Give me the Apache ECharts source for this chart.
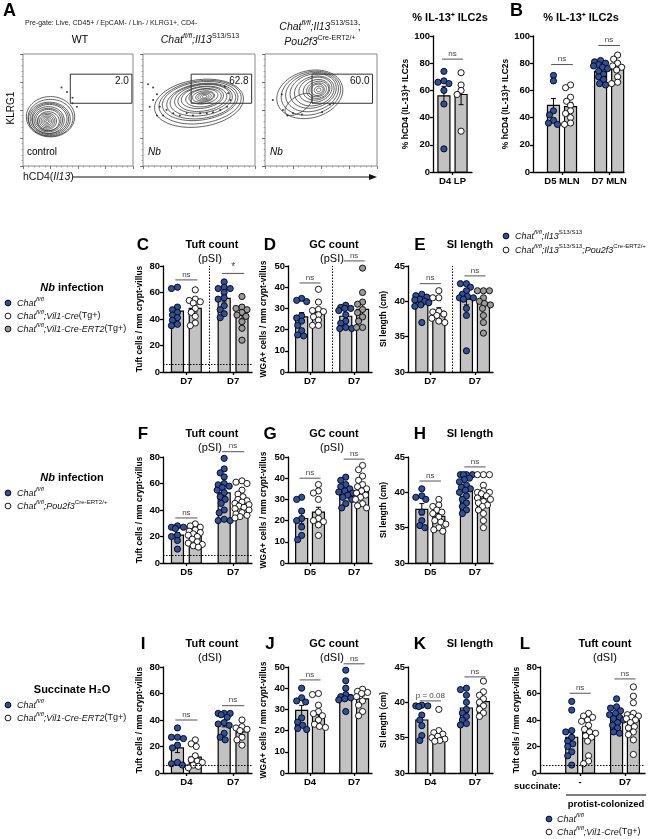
<!DOCTYPE html>
<html><head><meta charset="utf-8">
<script src="https://cdn.jsdelivr.net/npm/echarts@6/dist/echarts.min.js"></script>
<style>html,body{margin:0;padding:0;background:#fff}#c{width:650px;height:839px}</style>
</head><body><div id="c"></div><script>
const FONT = '"Liberation Sans", Arial, Helvetica, sans-serif';

// ---------------- DATA ----------------
// Panel A flow plots (plot units 0-100)
const flowRingsWT = [[25,44,22,18,0],[25,43,20.5,16.5,0],[24,42,19,15,0],[24,42,17.5,14,0],[24,42,16,13,0],[23,41,14.5,12,0],[23,41,13,10.5,0],[23,41,11.5,9.5,0],[23,40,10,8.5,0],[22,40,8.5,7.2,0],[22,40,7,6,0],[22,40,5.5,4.7,0],[22,40,4,3.5,0],[22,40,2.5,2.2,0],[22,40,1.2,1.1,0]];
const flowRingsIl13 = [[50,56,40,21,8],[51,57,37,19,8],[51,58,34,17,8],[52,58,31,15.5,8],[52,59,28,14,8],[53,60,25,12.5,8],[53,60,22,11,8],[53,61,19,9.5,8],[54,61,16,8,8],[54,62,13,6.5,8],[54,62,10,5,8],[55,62,8,4,8],[55,62,6,3,8],[55,62,4,2,8],[55,62,2,1.2,8]];
const flowRingsPou = [[40,64,30,21,15],[41,65,27,19,15],[42,66,24,17,15],[43,67,21,15,15],[44,67,18,13,15],[45,68,15,11,15],[46,68,12,9,15],[47,68,10,7.5,15],[47,68,8,6,15],[47,68,6,5,15],[48,68,4,3.2,15],[48,68,2,1.6,15],[30,55,14,7,35]];
const flowDotsWT = [[35,70],[40,66],[45,61],[45,56],[49,53]];
const flowDotsIl13 = [[4.5,73],[9,70],[12.5,64],[9,59],[15,53],[21,50],[27,47],[33,45],[39,47],[44.6,45],[51,47],[57,47],[62.5,48],[69,50],[75,53],[78,59],[76,65],[73,71],[6,53],[12.5,45],[18,45]];
const flowDotsPou = [[7,59],[15,64],[16,50],[20,45],[25,47],[33,46],[51,48],[58,55],[61,56]];
const flowGates = [[43,56,99,82],[43,56,97,82],[42,56,96,82]];
const flowPercents = ['2.0','62.8','60.0'];

// Panel A bar: % IL-13+ ILC2s, D4 LP
const aCats = ['D4 LP'];
const aMeans = [56, 57];
const aSem = [7, 7.5];
const aIl13 = [74, 66, 67, 65, 60, 50, 17];
const aIl13Pou = [73, 64, 60, 57, 30];
const aSig = [['ns', 83]];

// Panel B
const bCats = ['D5 MLN', 'D7 MLN'];
const bMeans = [49, 48, 74, 77];
const bSem = [5, 3.2, 1.5, 2.3];
const bD5Il13 = [71, 67, 45, 42, 38, 36, 35];
const bD5Pou = [64, 62, 55, 52, 49, 45, 43, 40, 36, 35];
const bD7Il13 = [82, 81, 80, 79, 78, 77, 76, 74, 72, 70, 68, 65, 64];
const bD7Pou = [86, 83, 80, 78, 77, 75, 70, 66, 65];
const bSig = [['ns', 79], ['ns', 93]];

// Panel C: Tuft count (pSI)
const cCats = ['D7', 'D7'];
const cMeans = [46, 48, 55.5, 43];
const cSem = [3.2, 2.7, 2.6, 2.9];
const cChatA = [63, 64, 49, 47, 45, 43, 41, 39, 36, 35];
const cVilCre = [62, 55, 54, 53, 52, 48, 45, 42, 37, 35];
const cChatB = [68, 64, 63, 63, 60, 56, 55, 50, 47, 44, 41];
const cVilErt2 = [57, 49, 48, 47, 45, 43, 42, 38, 33, 24];
const cSig = [['ns', 69.5], ['*', 74.4]];

// Panel D: GC count (pSI)
const dCats = ['D7', 'D7'];
const dMeans = [26, 28, 26.3, 29.5];
const dSem = [2.0, 1.6, 1.3, 2.8];
const dChatA = [34.7, 33.8, 33.2, 26.5, 25.5, 24, 22, 19.5, 17.5, 17];
const dVilCre = [39, 33, 29.5, 29, 28.5, 27, 26, 24.5, 22, 22];
const dChatB = [31.5, 30.5, 30, 30, 29, 27, 24, 23, 21, 20.5, 20.5];
const dVilErt2 = [49, 37.5, 33, 32, 29.5, 28, 26, 24, 21, 21];
const dSig = [['ns', 42], ['ns', 52.4]];

// Panel E: SI length
const eCats = ['D7', 'D7'];
const eMeans = [39.8, 38.6, 40.3, 39.7];
const eSem = [0.4, 0.5, 0.8, 0.5];
const eChatA = [41, 40.8, 40.6, 40.3, 40.2, 40, 39.8, 39.5, 39.3, 37];
const eVilCre = [41.5, 40.5, 40.5, 38.6, 38.5, 38.2, 38, 37.6, 37.2, 37];
const eChatB = [42.5, 42.5, 42, 41.5, 41, 40.7, 40.5, 40.5, 40.3, 39, 38, 33];
const eVilErt2 = [41.5, 41.5, 41.5, 40.5, 40, 39.7, 39.5, 39, 38, 37, 35.5];
const eSig = [['ns', 42.5], ['ns', 43.6]];

// Panel F: Tuft count (pSI)
const fCats = ['D5', 'D7'];
const fMeans = [21, 20, 53, 45.5];
const fSem = [2, 1.4, 2.9, 1.8];
const fD5Chat = [28, 27, 27, 26, 21, 20, 17, 10.5];
const fD5Pou = [29.5, 28, 27, 25, 24, 23, 22, 21, 20, 18, 16, 15, 14, 13, 12];
const fD7Chat = [79, 71, 68, 65, 60, 59, 58, 57, 55, 53, 50, 48, 45, 40, 38, 33, 32, 32];
const fD7Pou = [62, 61, 60, 55, 52, 50, 48, 47, 46, 45, 44, 43, 42, 41, 40, 38, 37, 36, 35, 34];
const fSig = [['ns', 34], ['ns', 84]];

// Panel G: GC count (pSI)
const gCats = ['D5', 'D7'];
const gMeans = [21, 24, 34, 35];
const gSem = [2.5, 2.3, 1.1, 1.4];
const gD5Chat = [31, 30, 24.5, 21, 20, 17, 13, 11];
const gD5Pou = [37, 34, 33, 30, 24, 21, 20, 19.5, 18, 13];
const gD7Chat = [40.5, 39, 37, 36, 35, 34, 33.5, 33, 32, 31, 30, 28, 26];
const gD7Pou = [46, 44, 41, 39, 37, 36, 35, 34, 33, 32, 31, 30, 28, 27, 26];
const gSig = [['ns', 40], ['ns', 49]];

// Panel H: SI length
const hCats = ['D5', 'D7'];
const hMeans = [37.6, 36.6, 40.6, 39.2];
const hSem = [0.8, 0.4, 0.4, 0.4];
const hD5Chat = [40.5, 39.5, 39.3, 39, 37.2, 36, 35.3, 35];
const hD5Pou = [39, 38.2, 38, 37.5, 37.2, 37, 36.5, 36, 35.8, 35.5, 35, 34.7, 34.5];
const hD7Chat = [42.5, 42.5, 42.5, 42.5, 42, 41.8, 41.5, 41, 40.7, 40.5, 40.3, 40, 39.5, 39, 38.5, 38, 37.5, 37];
const hD7Pou = [42.5, 42.5, 42.5, 41, 40.2, 40, 40, 39.8, 39.5, 39.2, 39, 38.7, 38.5, 38.2, 38, 37.5, 37, 36, 35];
const hSig = [['ns', 41.6], ['ns', 43.6]];

// Panel I: Tuft count (dSI)
const iCats = ['D4', 'D7'];
const iMeans = [19, 12, 37, 31];
const iSem = [3.6, 2.3, 2.2, 2.2];
const iD4Chat = [34, 27, 27, 26, 21, 19, 8, 7, 6];
const iD4Ert2 = [25, 22, 20, 13, 10, 9, 8, 6, 5, 4];
const iD7Chat = [45, 45, 45, 44, 42, 38, 37, 36, 30, 27, 25];
const iD7Ert2 = [40, 35, 34, 33, 32, 27, 25, 21];
const iSig = [['ns', 40], ['ns', 50.8]];

// Panel J: GC count (dSI)
const jCats = ['D4', 'D7'];
const jMeans = [29.5, 27.5, 37, 35];
const jSem = [2.4, 2.0, 1.9, 1.4];
const jD4Chat = [40, 35.5, 34, 33.5, 26, 24, 22.5, 21, 20.5];
const jD4Ert2 = [37.5, 37, 32, 29, 28, 27, 25, 23, 22, 21.5];
const jD7Chat = [48.5, 43.5, 40, 37, 36, 35.5, 35, 34.5, 29];
const jD7Ert2 = [39.5, 38.5, 38, 37.5, 36, 34, 32, 29, 27];
const jSig = [['ns', 43.9], ['ns', 51.5]];

// Panel K: SI length
const kCats = ['D4', 'D7'];
const kMeans = [37.5, 35.4, 39.2, 40.1];
const kSem = [0.7, 0.4, 0.6, 0.5];
const kD4Chat = [39.6, 39.5, 39.5, 39.4, 38.2, 37.5, 36.7, 35.3, 34.6];
const kD4Ert2 = [39, 36, 35.7, 35.5, 35.2, 35, 34.8, 34.6, 34.5];
const kD7Chat = [42, 41.8, 41, 40, 39, 38.5, 38, 37.5, 37, 36.8];
const kD7Ert2 = [43, 41.5, 41, 40.5, 40, 39.5, 39, 38.5, 38];
const kSig = [['p = 0.08', 40.2], ['ns', 43.6]];

// Panel L: Tuft count (dSI), protist-colonized
const lCats = ['-', 'D7'];
const lMeans = [27, 30.5, 41, 40];
const lSem = [4.5, 3.4, 2.0, 3.1];
const lNoneChat = [54, 47.5, 32, 31, 27, 24, 22, 20, 16, 13, 6];
const lNoneVil = [45, 43, 42, 40, 39, 36, 33, 31, 30, 28, 27, 24, 13, 9, 7];
const lD7Chat = [56, 50, 49, 47, 45, 44, 42, 41, 40, 38, 36, 34, 31, 30];
const lD7Vil = [65, 58, 53, 45, 44, 43, 42, 41, 40, 38, 35, 34, 31, 29, 25, 14];
const lSig = [['ns', 60.2], ['ns', 71]];

const detectionLimit = 6;

// ---------------- BUILD ----------------
const BLUE = '#2f509e', GREYDOT = '#9a9a9a', BARFILL = '#c2c2c2';
const DOTFILL = {b: BLUE, w: '#ffffff', g: GREYDOT};
const grids = [], xAxes = [], yAxes = [], series = [], graphics = [];

// compact beeswarm layout (pixel space), offsets limited to about the bar width
function swarm(vals, center, pxX, pxY) {
  const order = vals.map((v, i) => [v, i]).sort((a, b) => b[0] - a[0]);
  const placed = [], out = [];
  const minD = 5.2, maxOff = 7;
  const cands = [0];
  for (let s = 1; s <= maxOff; s++) { cands.push(-s, s); }
  order.forEach(([v]) => {
    const yp = v * pxY;
    let chosen = null, best = -1, bestO = 0;
    for (const o of cands) {
      let md = 1e9;
      for (const p of placed) {
        const dx = o - p[0], dy = yp - p[1];
        md = Math.min(md, Math.sqrt(dx * dx + dy * dy));
      }
      if (md >= minD) { chosen = o; break; }
      if (md > best) { best = md; bestO = o; }
    }
    if (chosen === null) chosen = bestO;
    placed.push([chosen, yp]);
    out.push([center + chosen / pxX, v]);
  });
  return out;
}

function addBarPanel(c) {
  const gi = grids.length;
  grids.push({left: c.left, top: c.top, width: c.width, height: c.height, containLabel: false, outerBoundsMode: 'none'});
  const xi = xAxes.length, yi = yAxes.length;
  const lab = v => { const k = c.centers.findIndex(q => Math.abs(q - v) < 1e-6); return k >= 0 ? c.cats[k] : ''; };
  xAxes.push({type: 'value', gridIndex: gi, min: 0, max: c.xMax, splitLine: {show: false},
    axisLine: {show: true, onZero: false, lineStyle: {color: '#000', width: 1.3}},
    axisTick: {show: true, customValues: c.centers, length: 3, lineStyle: {color: '#000', width: 1.3}},
    axisLabel: {show: true, customValues: c.centers, formatter: lab, fontFamily: FONT, fontWeight: 'bold', fontSize: 9.5, color: '#000', margin: 4}
  });
  yAxes.push({type: 'value', gridIndex: gi, min: c.ymin, max: c.ymax, interval: c.interval,
    name: c.yname, nameLocation: 'middle', nameGap: c.nameGap || 19,
    nameTextStyle: {fontFamily: FONT, fontWeight: 'bold', fontSize: 8.5, color: '#000'},
    splitLine: {show: false},
    axisLine: {show: true, lineStyle: {color: '#000', width: 1.3}},
    axisTick: {show: true, length: 3, lineStyle: {color: '#000', width: 1.3}},
    axisLabel: {fontFamily: FONT, fontWeight: 'bold', fontSize: 9.5, color: '#000', margin: 3}
  });
  const pxX = c.width / c.xMax, pxY = c.height / (c.ymax - c.ymin);
  series.push({type: 'custom', xAxisIndex: xi, yAxisIndex: yi, z: 1, silent: true,
    data: c.pos.map((p, k) => [p, c.means[k]]),
    renderItem: (params, api) => {
      const t = api.coord([api.value(0), api.value(1)]);
      const b = api.coord([api.value(0), c.ymin]);
      return {type: 'rect', shape: {x: t[0] - 6, y: t[1], width: 12, height: b[1] - t[1]},
        style: {fill: BARFILL, stroke: '#000', lineWidth: 1.2}};
    }});
  series.push({type: 'custom', xAxisIndex: xi, yAxisIndex: yi, z: 2, silent: true,
    data: c.pos.map((p, k) => [p, c.means[k], c.sems[k]]),
    renderItem: (params, api) => {
      const x = api.value(0), m = api.value(1), s = api.value(2);
      const a = api.coord([x, m + s]), b = api.coord([x, m - s]);
      const st = {stroke: '#000', lineWidth: 1};
      return {type: 'group', children: [
        {type: 'line', shape: {x1: a[0], y1: a[1], x2: b[0], y2: b[1]}, style: st},
        {type: 'line', shape: {x1: a[0] - 2.5, y1: a[1], x2: a[0] + 2.5, y2: a[1]}, style: st},
        {type: 'line', shape: {x1: b[0] - 2.5, y1: b[1], x2: b[0] + 2.5, y2: b[1]}, style: st}
      ]};
    }});
  c.groups.forEach((vals, k) => {
    const s = {type: 'scatter', xAxisIndex: xi, yAxisIndex: yi, z: 4, silent: true,
      symbol: 'circle', symbolSize: 6.2,
      itemStyle: {color: DOTFILL[c.styles[k]], borderColor: '#000', borderWidth: 0.9, opacity: 1},
      data: swarm(vals, c.pos[k], pxX, pxY)};
    if (k === 0 && (c.cutoff || c.divider)) {
      const ml = [];
      if (c.cutoff) ml.push({yAxis: detectionLimit});
      if (c.divider) ml.push({xAxis: c.divider});
      s.markLine = {silent: true, symbol: 'none', label: {show: false}, animation: false,
        lineStyle: {type: [1.5, 1.5], color: '#000', width: 1}, data: ml};
    }
    series.push(s);
  });
  series.push({type: 'custom', xAxisIndex: xi, yAxisIndex: yi, z: 5, silent: true, clip: false,
    data: c.sig.map((s, k) => [c.pos[2 * k] - 0.1, c.pos[2 * k + 1] + 0.1, s[1], k]),
    renderItem: (params, api) => {
      const k = api.value(3);
      const a = api.coord([api.value(0), api.value(2)]), b = api.coord([api.value(1), api.value(2)]);
      return {type: 'group', children: [
        {type: 'line', shape: {x1: a[0], y1: a[1], x2: b[0], y2: b[1]}, style: {stroke: '#555', lineWidth: 1}},
        {type: 'text', x: (a[0] + b[0]) / 2, y: a[1] - 1.5,
          style: {text: c.sig[k][0], fill: '#444', fontFamily: FONT, fontSize: c.sig[k][0] === '*' ? 10 : 8,
            align: 'center', verticalAlign: 'bottom'}}
      ]};
    }});
}

function addFlow(c) {
  const gi = grids.length;
  grids.push({left: c.left, top: c.top, width: c.width, height: c.height, containLabel: false, outerBoundsMode: 'none',
    show: true, borderColor: '#8a8a8a', borderWidth: 1});
  const xi = xAxes.length, yi = yAxes.length;
  const ax = {type: 'value', gridIndex: gi, min: 0, max: 100, interval: 25, splitLine: {show: false},
    axisLine: {show: false}, axisLabel: {show: false},
    axisTick: {show: true, length: 3, lineStyle: {color: '#555', width: 0.8}},
    minorTick: {show: true, splitNumber: 5, length: 1.5, lineStyle: {color: '#777', width: 0.6}}};
  xAxes.push(Object.assign({}, ax));
  yAxes.push(Object.assign({}, ax));
  series.push({type: 'custom', xAxisIndex: xi, yAxisIndex: yi, silent: true, z: 2, data: c.rings,
    renderItem: (params, api) => {
      const cx = api.value(0), cy = api.value(1), rx = api.value(2), ry = api.value(3), rot = api.value(4) * Math.PI / 180;
      const pts = [];
      for (let t = 0; t < 40; t++) {
        const a = t / 40 * 2 * Math.PI, dx = rx * Math.cos(a), dy = ry * Math.sin(a);
        pts.push(api.coord([cx + dx * Math.cos(rot) - dy * Math.sin(rot), cy + dx * Math.sin(rot) + dy * Math.cos(rot)]));
      }
      return {type: 'polygon', shape: {points: pts, smooth: 0.3}, style: {fill: 'none', stroke: '#3a3a3a', lineWidth: 0.8}};
    }});
  series.push({type: 'scatter', xAxisIndex: xi, yAxisIndex: yi, silent: true, z: 3, symbolSize: 2,
    itemStyle: {color: '#111'}, data: c.dots});
  series.push({type: 'custom', xAxisIndex: xi, yAxisIndex: yi, silent: true, z: 4, data: [c.gate],
    renderItem: (params, api) => {
      const p1 = api.coord([api.value(0), api.value(3)]), p2 = api.coord([api.value(2), api.value(1)]);
      return {type: 'group', children: [
        {type: 'rect', shape: {x: p1[0], y: p1[1], width: p2[0] - p1[0], height: p2[1] - p1[1]}, style: {fill: 'none', stroke: '#333', lineWidth: 1}},
        {type: 'text', x: p2[0] - 3, y: p1[1] + 7, style: {text: c.pct, fill: '#111', fontFamily: FONT, fontSize: 10, align: 'right', verticalAlign: 'middle'}}
      ]};
    }});
}

function rich(sz) {
  return {
    i: {fontStyle: 'italic', fontSize: sz, fontFamily: FONT, lineHeight: sz + 4, verticalAlign: 'middle', fill: '#111'},
    n: {fontSize: sz, fontFamily: FONT, lineHeight: sz + 4, verticalAlign: 'middle', fill: '#111'},
    b: {fontSize: sz, fontWeight: 'bold', fontFamily: FONT, lineHeight: sz + 4, fill: '#000'},
    bi: {fontSize: sz, fontWeight: 'bold', fontStyle: 'italic', fontFamily: FONT, lineHeight: sz + 4, fill: '#000'},
    s: {fontSize: sz * 0.68, fontFamily: FONT, lineHeight: sz * 0.7, verticalAlign: 'top', fill: '#111'},
    si: {fontSize: sz * 0.68, fontStyle: 'italic', fontFamily: FONT, lineHeight: sz * 0.7, verticalAlign: 'top', fill: '#111'}
  };
}
function T(x, y, text, o) {
  o = o || {};
  const al = o.align || 'center';
  return {type: 'text', x: x, y: y, rotation: o.rot || 0, silent: true, z: 10,
    style: {text: text, fill: o.color || '#000', fontSize: o.size || 10, fontWeight: o.bold ? 'bold' : 'normal',
      fontStyle: o.italic ? 'italic' : 'normal', fontFamily: FONT, align: al, textAlign: al,
      verticalAlign: 'middle', textVerticalAlign: 'middle', rich: o.rich}};
}
function dot(x, y, fill) {
  return {type: 'circle', silent: true, z: 10, shape: {cx: x, cy: y, r: 2.9}, style: {fill: fill, stroke: '#000', lineWidth: 0.9}};
}

// ---- flow panels ----
addFlow({left: 23, top: 54, width: 110, height: 112, rings: flowRingsWT, dots: flowDotsWT, gate: flowGates[0], pct: flowPercents[0]});
addFlow({left: 143, top: 54, width: 112, height: 112, rings: flowRingsIl13, dots: flowDotsIl13, gate: flowGates[1], pct: flowPercents[1]});
addFlow({left: 265, top: 54, width: 112, height: 112, rings: flowRingsPou, dots: flowDotsPou, gate: flowGates[2], pct: flowPercents[2]});

// ---- bar panels ----
const rowPos = [0.65, 1.45, 2.75, 3.55], rowCenters = [1.05, 3.15];
const S4 = ['b', 'w', 'b', 'w'], SG = ['b', 'w', 'b', 'g'];
const yTuft = 'Tuft cells / mm crypt-villus', yWGA = 'WGA+ cells / mm crypt-villus', ySI = 'SI length (cm)', yIL = '% hCD4 (IL-13)+ ILC2s';

addBarPanel({left: 433, top: 36, width: 39, height: 136, xMax: 2, pos: [0.56, 1.44], centers: [1.0], cats: aCats,
  ymin: 0, ymax: 100, interval: 20, yname: yIL, nameGap: 21, means: aMeans, sems: aSem, groups: [aIl13, aIl13Pou], styles: ['b', 'w'], sig: aSig});
addBarPanel({left: 533, top: 36, width: 91, height: 136, xMax: 4, pos: [0.9, 1.65, 2.97, 3.72], centers: [1.275, 3.345], cats: bCats,
  ymin: 0, ymax: 100, interval: 20, yname: yIL, nameGap: 21, means: bMeans, sems: bSem, groups: [bD5Il13, bD5Pou, bD7Il13, bD7Pou], styles: S4, sig: bSig});

const rowTops = [266, 457, 667], rowH = 106;
const colL = [[163, 89], [288, 84], [408, 85]];
function panel(row, col, o) {
  addBarPanel(Object.assign({left: colL[col][0], top: rowTops[row], width: colL[col][1], height: rowH, xMax: 4, pos: rowPos, centers: rowCenters}, o));
}
panel(0, 0, {cats: cCats, ymin: 0, ymax: 80, interval: 20, yname: yTuft, means: cMeans, sems: cSem, groups: [cChatA, cVilCre, cChatB, cVilErt2], styles: SG, sig: cSig, cutoff: true, divider: 2.1});
panel(0, 1, {cats: dCats, ymin: 0, ymax: 50, interval: 10, yname: yWGA, nameGap: 20, means: dMeans, sems: dSem, groups: [dChatA, dVilCre, dChatB, dVilErt2], styles: SG, sig: dSig, divider: 2.1});
panel(0, 2, {cats: eCats, ymin: 30, ymax: 45, interval: 5, yname: ySI, nameGap: 20, means: eMeans, sems: eSem, groups: [eChatA, eVilCre, eChatB, eVilErt2], styles: SG, sig: eSig, divider: 2.1});
panel(1, 0, {cats: fCats, ymin: 0, ymax: 80, interval: 20, yname: yTuft, means: fMeans, sems: fSem, groups: [fD5Chat, fD5Pou, fD7Chat, fD7Pou], styles: S4, sig: fSig, cutoff: true});
panel(1, 1, {cats: gCats, ymin: 0, ymax: 50, interval: 10, yname: yWGA, nameGap: 20, means: gMeans, sems: gSem, groups: [gD5Chat, gD5Pou, gD7Chat, gD7Pou], styles: S4, sig: gSig});
panel(1, 2, {cats: hCats, ymin: 30, ymax: 45, interval: 5, yname: ySI, nameGap: 20, means: hMeans, sems: hSem, groups: [hD5Chat, hD5Pou, hD7Chat, hD7Pou], styles: S4, sig: hSig});
panel(2, 0, {cats: iCats, ymin: 0, ymax: 80, interval: 20, yname: yTuft, means: iMeans, sems: iSem, groups: [iD4Chat, iD4Ert2, iD7Chat, iD7Ert2], styles: S4, sig: iSig, cutoff: true});
panel(2, 1, {cats: jCats, ymin: 0, ymax: 50, interval: 10, yname: yWGA, nameGap: 20, means: jMeans, sems: jSem, groups: [jD4Chat, jD4Ert2, jD7Chat, jD7Ert2], styles: S4, sig: jSig});
panel(2, 2, {cats: kCats, ymin: 30, ymax: 45, interval: 5, yname: ySI, nameGap: 20, means: kMeans, sems: kSem, groups: [kD4Chat, kD4Ert2, kD7Chat, kD7Ert2], styles: S4, sig: kSig});
addBarPanel({left: 540, top: rowTops[2], width: 105, height: rowH, xMax: 4.8, pos: [1.45, 2.22, 3.5, 4.27], centers: [1.835, 3.885], cats: lCats,
  ymin: 0, ymax: 80, interval: 20, yname: yTuft, means: lMeans, sems: lSem, groups: [lNoneChat, lNoneVil, lD7Chat, lD7Vil], styles: S4, sig: lSig, cutoff: true});

// ---- texts ----
const r9 = rich(9), r10 = rich(10.5), rB = rich(11);
graphics.push(T(3, 11, 'A', {size: 18, bold: true, align: 'left'}));
graphics.push(T(25, 23, 'Pre-gate: Live, CD45+ / EpCAM- / Lin- / KLRG1+, CD4-', {size: 7, align: 'left', color: '#222'}));
graphics.push(T(80, 40, 'WT', {size: 10.5}));
graphics.push(T(200, 40, '{i|Chat}{si|fl/fl}{i|;Il13}{s|S13/S13}', {rich: r10}));
graphics.push(T(320, 27, '{i|Chat}{si|fl/fl}{i|;Il13}{s|S13/S13}{n|;}', {rich: r10}));
graphics.push(T(320, 42, '{i|Pou2f3}{s|Cre-ERT2/+}', {rich: r10}));
graphics.push(T(11, 108, 'KLRG1', {size: 10, rot: Math.PI / 2}));
graphics.push(T(27, 152, 'control', {size: 10, align: 'left'}));
graphics.push(T(148, 152, 'Nb', {size: 10, italic: true, align: 'left'}));
graphics.push(T(270, 152, 'Nb', {size: 10, italic: true, align: 'left'}));
graphics.push(T(23, 177, '{n|hCD4(}{i|Il13}{n|)}', {rich: r10, align: 'left'}));
graphics.push({type: 'line', silent: true, z: 10, shape: {x1: 73, y1: 177, x2: 370, y2: 177}, style: {stroke: '#111', lineWidth: 1}});
graphics.push({type: 'polygon', silent: true, z: 10, shape: {points: [[377, 177], [369, 174], [369, 180]]}, style: {fill: '#111'}});
graphics.push(T(450, 18, '% IL-13\u207A ILC2s', {size: 11, bold: true}));
graphics.push(T(510, 11, 'B', {size: 18, bold: true, align: 'left'}));
graphics.push(T(581, 18, '% IL-13\u207A ILC2s', {size: 11, bold: true}));
graphics.push(dot(506, 236, BLUE));
graphics.push(T(515, 236, '{i|Chat}{si|fl/fl}{i|;Il13}{s|S13/S13}', {rich: r9, align: 'left'}));
graphics.push(dot(506, 250, '#fff'));
graphics.push(T(515, 250, '{i|Chat}{si|fl/fl}{i|;Il13}{s|S13/S13}{i|;Pou2f3}{s|Cre-ERT2/+}', {rich: r9, align: 'left'}));

const letters = [['C', 'D', 'E'], ['F', 'G', 'H'], ['I', 'J', 'K']];
const titles = ['Tuft count', 'GC count', 'SI length'];
const subs = ['(pSI)', '(pSI)', '(dSI)'];
const letterX = [143, 270, 420], titleX = [212, 334, 470];
const titleY = [245, 434, 644];
for (let r = 0; r < 3; r++) {
  for (let c = 0; c < 3; c++) {
    graphics.push(T(letterX[c], titleY[r], letters[r][c], {size: 17, bold: true}));
    graphics.push(T(titleX[c], titleY[r], titles[c], {size: 11, bold: true}));
    if (c < 2) graphics.push(T(titleX[c] - 2, titleY[r] + 14, subs[r], {size: 11}));
  }
}
graphics.push(T(525, 644, 'L', {size: 17, bold: true}));
graphics.push(T(605, 644, 'Tuft count', {size: 11, bold: true}));
graphics.push(T(605, 658, '(dSI)', {size: 11}));
graphics.push(T(561, 786, 'succinate:', {size: 9.5, bold: true, align: 'right'}));
graphics.push({type: 'line', silent: true, z: 10, shape: {x1: 566, y1: 795, x2: 646, y2: 795}, style: {stroke: '#000', lineWidth: 1}});
graphics.push(T(606, 804, 'protist-colonized', {size: 9.5, bold: true}));
graphics.push(dot(549, 819, BLUE));
graphics.push(T(557, 819, '{i|Chat}{si|fl/fl}', {rich: r9, align: 'left'}));
graphics.push(dot(549, 832, '#fff'));
graphics.push(T(557, 832, '{i|Chat}{si|fl/fl}{i|;Vil1-Cre}{n|(Tg+)}', {rich: r9, align: 'left'}));

const lg = [
  {y: 288, head: '{bi|Nb}{b| infection}', items: [['{i|Chat}{si|fl/fl}', BLUE], ['{i|Chat}{si|fl/fl}{i|;Vil1-Cre}{n|(Tg+)}', '#fff'], ['{i|Chat}{si|fl/fl}{i|;Vil1-Cre-ERT2}{n|(Tg+)}', GREYDOT]]},
  {y: 478, head: '{bi|Nb}{b| infection}', items: [['{i|Chat}{si|fl/fl}', BLUE], ['{i|Chat}{si|fl/fl}{i|;Pou2f3}{s|Cre-ERT2/+}', '#fff']]},
  {y: 690, head: '{b|Succinate H\u2082O}', items: [['{i|Chat}{si|fl/fl}', BLUE], ['{i|Chat}{si|fl/fl}{i|;Vil1-Cre-ERT2}{n|(Tg+)}', '#fff']]}
];
lg.forEach(g => {
  graphics.push(T(72, g.y, g.head, {rich: rB}));
  g.items.forEach((it, k) => {
    graphics.push(dot(8, g.y + 15 + 13 * k, it[1]));
    graphics.push(T(17, g.y + 15 + 13 * k, it[0], {rich: r9, align: 'left'}));
  });
});

const chart = echarts.init(document.getElementById('c'), null, {renderer: 'canvas', width: 650, height: 839});
chart.setOption({animation: false, backgroundColor: '#fff', grid: grids, xAxis: xAxes, yAxis: yAxes, series: series, graphic: {elements: graphics}});
</script></body></html>
